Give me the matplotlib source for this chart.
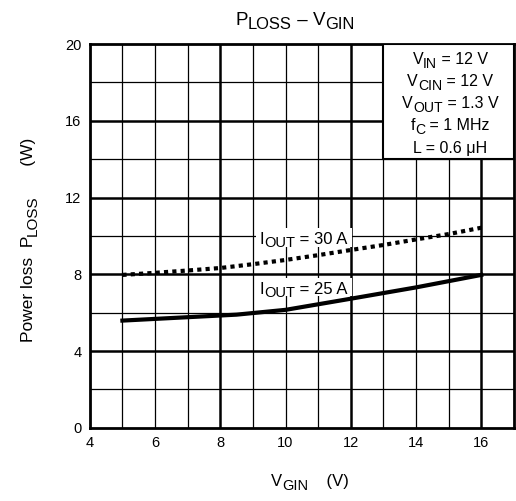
import matplotlib
matplotlib.use('Agg')
import matplotlib.pyplot as plt
import matplotlib.transforms as mtransforms
from matplotlib.textpath import TextToPath
from matplotlib.font_manager import FontProperties

plt.rcParams['font.family'] = ['Liberation Sans', 'DejaVu Sans']

# data
vgin = [5, 6, 7, 8, 9, 10, 11, 12, 13, 14, 15, 16]
ploss_30a = [7.97, 8.08, 8.2, 8.33, 8.53, 8.75, 9.0, 9.27, 9.53, 9.82, 10.1, 10.43]
vgin_25a = [5, 8.5, 10, 12, 14, 16]
ploss_25a = [5.59, 5.9, 6.15, 6.73, 7.32, 7.97]
xticks = [4, 6, 8, 10, 12, 14, 16]
yticks = [0, 4, 8, 12, 16, 20]
# (text, is_subscript) pieces
conditions = [
    [('V', 0), ('IN', 1), (' = 12 V', 0)],
    [('V', 0), ('CIN', 1), (' = 12 V', 0)],
    [('V', 0), ('OUT', 1), (' = 1.3 V', 0)],
    [('f', 0), ('C', 1), (' = 1 MHz', 0)],
    [('L = 0.6 \u03bcH', 0)],
]

SUB_SCALE = 0.88
SUB_DROP = 0.22
t2p = TextToPath()


def seg_width(s, size):
    prop = FontProperties(family=['Liberation Sans', 'DejaVu Sans'], size=size)
    w, h, d = t2p.get_text_width_height_descent(s, prop, ismath=False)
    return w


def rich_text(fig, x, y, segs, size, transform, ha='center', rotation=0, zorder=6):
    # lay out main text + subscripts piece by piece (offsets in points)
    sizes = [size * SUB_SCALE if sub else size for _, sub in segs]
    widths = [seg_width(s, sz) for (s, _), sz in zip(segs, sizes)]
    total = sum(widths)
    start = {'center': -total / 2, 'left': 0, 'right': -total}[ha]
    pos = start
    for (s, sub), sz, w in zip(segs, sizes, widths):
        drop = -SUB_DROP * size if sub else 0
        if rotation == 90:
            off = mtransforms.offset_copy(transform, fig=fig, x=-drop, y=pos, units='points')
        else:
            off = mtransforms.offset_copy(transform, fig=fig, x=pos, y=drop, units='points')
        fig.text(x, y, s, fontsize=sz, transform=off, ha='left', va='baseline',
                 rotation=rotation, rotation_mode='anchor', zorder=zorder)
        pos += w


fig = plt.figure(figsize=(5.16, 5.01), dpi=100)
ax = fig.add_axes([0.174, 0.146, 0.822, 0.766])

ax.set_xlim(4, 17)
ax.set_ylim(0, 20)

# grid: thin every 1 V / 2 W, thick every 4
for x in range(5, 17):
    lw = 1.8 if x % 4 == 0 else 0.9
    ax.axvline(x, color='black', lw=lw, zorder=1)
for y in range(2, 20, 2):
    lw = 1.8 if y % 4 == 0 else 0.9
    ax.axhline(y, color='black', lw=lw, zorder=1)

ax.plot(vgin, ploss_30a, color='black', lw=3, linestyle=(0, (1, 1)), zorder=3)
ax.plot(vgin_25a, ploss_25a, color='black', lw=3, zorder=3)

# white patches behind curve labels
ax.add_patch(plt.Rectangle((9.1, 9.45), 2.95, 0.95, facecolor='white', edgecolor='none', zorder=2))
ax.add_patch(plt.Rectangle((9.1, 6.85), 2.95, 0.95, facecolor='white', edgecolor='none', zorder=2))
rich_text(fig, 9.2, 9.6, [('I', 0), ('OUT', 1), (' = 30 A', 0)], 12, ax.transData, ha='left')
rich_text(fig, 9.2, 7.0, [('I', 0), ('OUT', 1), (' = 25 A', 0)], 12, ax.transData, ha='left')

# conditions box
ax.add_patch(plt.Rectangle((13, 14), 4, 6, facecolor='white', edgecolor='black',
                           lw=1.5, zorder=5))
for i, line in enumerate(conditions):
    rich_text(fig, 15.05, 18.95 - i * 1.15, line, 11.5, ax.transData)

ax.set_xticks(xticks)
ax.set_yticks(yticks)
ax.tick_params(length=0, labelsize=10.5, pad=6)
for s in ax.spines.values():
    s.set_linewidth(2)

rich_text(fig, 0.572, 0.951, [('P', 0), ('LOSS', 1), (' \u2013 ', 0), ('V', 0), ('GIN', 1)],
          13.5, fig.transFigure)
rich_text(fig, 0.6, 0.03, [('V', 0), ('GIN', 1), ('    (V)', 0)], 12, fig.transFigure)
rich_text(fig, 0.064, 0.52, [('Power loss  P', 0), ('LOSS', 1), ('      (W)', 0)], 12.5,
          fig.transFigure, rotation=90)

fig.savefig('out.png', dpi=100)
